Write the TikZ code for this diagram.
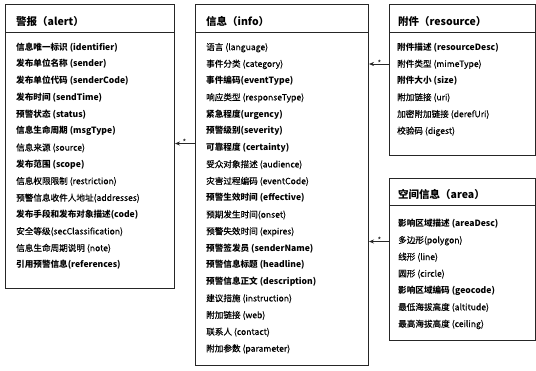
\documentclass[tikz,border=0pt]{standalone}
\usepackage{fontspec}
\setmainfont{Noto Sans CJK SC}
\newfontfamily\normfont[FakeBold=0.35]{Noto Sans CJK SC}
\usetikzlibrary{arrows.meta}
\begin{document}
\begin{tikzpicture}[x=1pt,y=1pt,
  box/.style={draw=black!85,line width=1pt,anchor=north west,inner sep=0pt},
  hdr/.style={anchor=west,inner sep=0pt,font=\fontsize{10.5}{12}\selectfont\bfseries},
  rown/.style={anchor=west,inner sep=0pt,text height=7pt,text depth=2pt,font=\fontsize{8.6}{10}\selectfont\normfont},
  rowb/.style={rown,font=\fontsize{8.6}{10}\selectfont\bfseries},
  sep/.style={draw=black!85,line width=0.7pt},
  conn/.style={draw=black!85,line width=0.7pt,-{Stealth[length=5pt,width=4pt]}},
  star/.style={inner sep=0pt,font=\fontsize{8}{8}\selectfont}
]
\useasboundingbox (0,0) rectangle (536,-370);
% boxes
\node[box,minimum width=169pt,minimum height=284pt] (alert) at (5,-4) {};
\node[box,minimum width=173pt,minimum height=361pt] (info) at (195,-4) {};
\node[box,minimum width=146pt,minimum height=151pt] (res) at (389,-4) {};
\node[box,minimum width=146pt,minimum height=162pt] (area) at (389,-178) {};
% header separators
\draw[sep] (alert.west |- 0,-32.3) -- (alert.east |- 0,-32.3);
\draw[sep] (info.west |- 0,-32.3) -- (info.east |- 0,-32.3);
\draw[sep] (res.west |- 0,-32.3) -- (res.east |- 0,-32.3);
\draw[sep] (area.west |- 0,-205.5) -- (area.east |- 0,-205.5);
% headers
\node[hdr] (ah) at (16,-21.7) {警报（alert）};
\node[hdr] (ih) at (206,-21.7) {信息（info）};
\node[hdr] (rh) at (398,-21.7) {附件（resource）};
\node[hdr] (arh) at (398,-194.5) {空间信息（area）};
% alert rows
\node[rowb] (a1) at (16,-47.7) {信息唯一标识 (identifier)};
\node[rowb] (a2) at (16,-64.45) {发布单位名称 (sender)};
\node[rowb] (a3) at (16,-81.2) {发布单位代码 (senderCode)};
\node[rowb] (a4) at (16,-97.95) {发布时间 (sendTime)};
\node[rowb] (a5) at (16,-114.7) {预警状态 (status)};
\node[rowb] (a6) at (16,-131.45) {信息生命周期 (msgType)};
\node[rown] (a7) at (16,-148.2) {信息来源 (source)};
\node[rowb] (a8) at (16,-164.95) {发布范围 (scope)};
\node[rown] (a9) at (16,-181.7) {信息权限限制 (restriction)};
\node[rown] (a10) at (16,-198.45) {预警信息收件人地址(addresses)};
\node[rowb] (a11) at (16,-215.2) {发布手段和发布对象描述(code)};
\node[rown] (a12) at (16,-231.95) {安全等级(secClassification)};
\node[rown] (a13) at (16,-248.7) {信息生命周期说明 (note)};
\node[rowb] (a14) at (16,-265.45) {引用预警信息(references)};
% info rows
\node[rown] (i1) at (206,-47.7) {语言 (language)};
\node[rown] (i2) at (206,-64.45) {事件分类 (category)};
\node[rowb] (i3) at (206,-81.2) {事件编码(eventType)};
\node[rown] (i4) at (206,-97.95) {响应类型 (responseType)};
\node[rowb] (i5) at (206,-114.7) {紧急程度(urgency)};
\node[rowb] (i6) at (206,-131.45) {预警级别(severity)};
\node[rowb] (i7) at (206,-148.2) {可靠程度 (certainty)};
\node[rown] (i8) at (206,-164.95) {受众对象描述 (audience)};
\node[rown] (i9) at (206,-181.7) {灾害过程编码 (eventCode)};
\node[rowb] (i10) at (206,-198.45) {预警生效时间 (effective)};
\node[rown] (i11) at (206,-215.2) {预期发生时间(onset)};
\node[rown] (i12) at (206,-231.95) {预警失效时间 (expires)};
\node[rowb] (i13) at (206,-248.7) {预警签发员 (senderName)};
\node[rowb] (i14) at (206,-265.45) {预警信息标题 (headline)};
\node[rowb] (i15) at (206,-282.2) {预警信息正文 (description)};
\node[rown] (i16) at (206,-298.95) {建议措施 (instruction)};
\node[rown] (i17) at (206,-315.7) {附加链接 (web)};
\node[rown] (i18) at (206,-332.45) {联系人 (contact)};
\node[rown] (i19) at (206,-349.2) {附加参数 (parameter)};
% resource rows
\node[rowb] (r1) at (397,-47.7) {附件描述 (resourceDesc)};
\node[rown] (r2) at (397,-64.45) {附件类型 (mimeType)};
\node[rowb] (r3) at (397,-81.2) {附件大小 (size)};
\node[rown] (r4) at (397,-97.95) {附加链接 (uri)};
\node[rown] (r5) at (397,-114.7) {加密附加链接 (derefUri)};
\node[rown] (r6) at (397,-131.45) {校验码 (digest)};
% area rows
\node[rowb] (g1) at (398,-224) {影响区域描述 (areaDesc)};
\node[rown] (g2) at (398,-240.75) {多边形(polygon)};
\node[rown] (g3) at (398,-257.5) {线形 (line)};
\node[rown] (g4) at (398,-274.25) {圆形 (circle)};
\node[rowb] (g5) at (398,-291) {影响区域编码 (geocode)};
\node[rown] (g6) at (398,-307.75) {最低海拔高度 (altitude)};
\node[rown] (g7) at (398,-324.5) {最高海拔高度 (ceiling)};
% connectors
\draw[conn] (info.west |- 0,-143.5) -- (alert.east |- 0,-143.5);
\node[star] (s1) at (184.5,-142.5) {*};
\draw[conn] (res.west |- 0,-64) -- (info.east |- 0,-64);
\node[star] (s2) at (379.5,-63) {*};
\draw[conn] (area.west |- 0,-241.5) -- (info.east |- 0,-241.5);
\node[star] (s3) at (379.5,-240.5) {*};
\end{tikzpicture}
\end{document}
